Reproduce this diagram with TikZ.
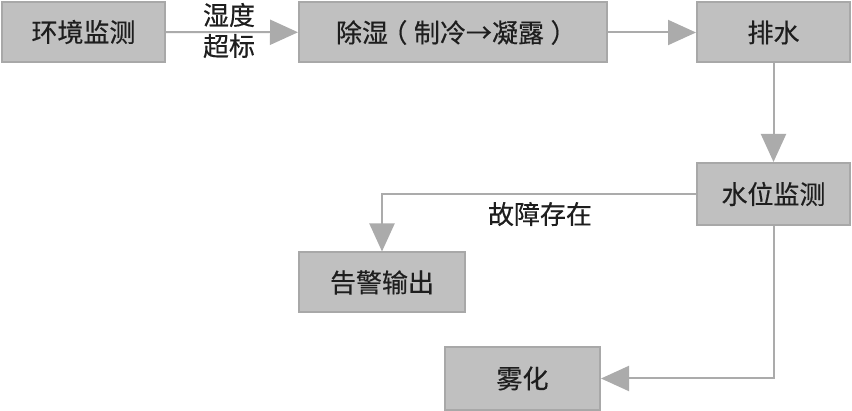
\documentclass[tikz,border=0pt]{standalone}
\usepackage{fontspec}
\usepackage{tikz}
\usetikzlibrary{arrows.meta}
\setmainfont[FakeBold=0.4]{Noto Sans CJK SC}
\definecolor{boxfill}{HTML}{C0C0C0}
\definecolor{boxline}{HTML}{A8A8A8}
\definecolor{flowline}{HTML}{ABABAB}
\definecolor{txt}{HTML}{1E1E1E}

\begin{document}
\begin{tikzpicture}[x=1pt,y=-1pt,
  box/.style={draw=boxline,fill=boxfill,line width=2pt,inner sep=0pt,
    minimum height=60pt,text=txt,font=\fontsize{26}{30}\selectfont},
  flow/.style={draw=flowline,line width=2pt,-{Triangle[length=28pt,width=25pt]}},
  lbl/.style={text=txt,font=\fontsize{26}{30}\selectfont}]
\useasboundingbox (0,0) rectangle (852,411);

\node[box,minimum width=163pt] (M) at ( 83.5, 32) {环境监测};
\node[box,minimum width=308pt] (D) at (453  , 32.5) {除湿\kern-.25em（\kern.25em 制冷→凝露\kern.25em）\kern-.25em};
\node[box,minimum width=153pt] (P) at (773.5, 32.5) {排水};
\node[box,minimum width=153pt,minimum height=62pt] (W) at (773.5,194) {水位监测};
\node[box,minimum width=166pt] (A) at (382  ,282.5) {告警输出};
\node[box,minimum width=155pt,minimum height=63pt] (F) at (522.5,378.5) {雾化};

\node[lbl] (H1) at (229, 15) {湿度};
\node[lbl] (H2) at (229, 46) {超标};
\node[lbl] (G)  at (540,214) {故障存在};

\draw[flow] (M) -- (D);
\draw[flow] (D) -- (P);
\draw[flow] (P) -- (W);
\draw[flow] (W.west) -| (A.north);
\draw[flow] (W.south) |- (F.east);
\end{tikzpicture}
\end{document}
